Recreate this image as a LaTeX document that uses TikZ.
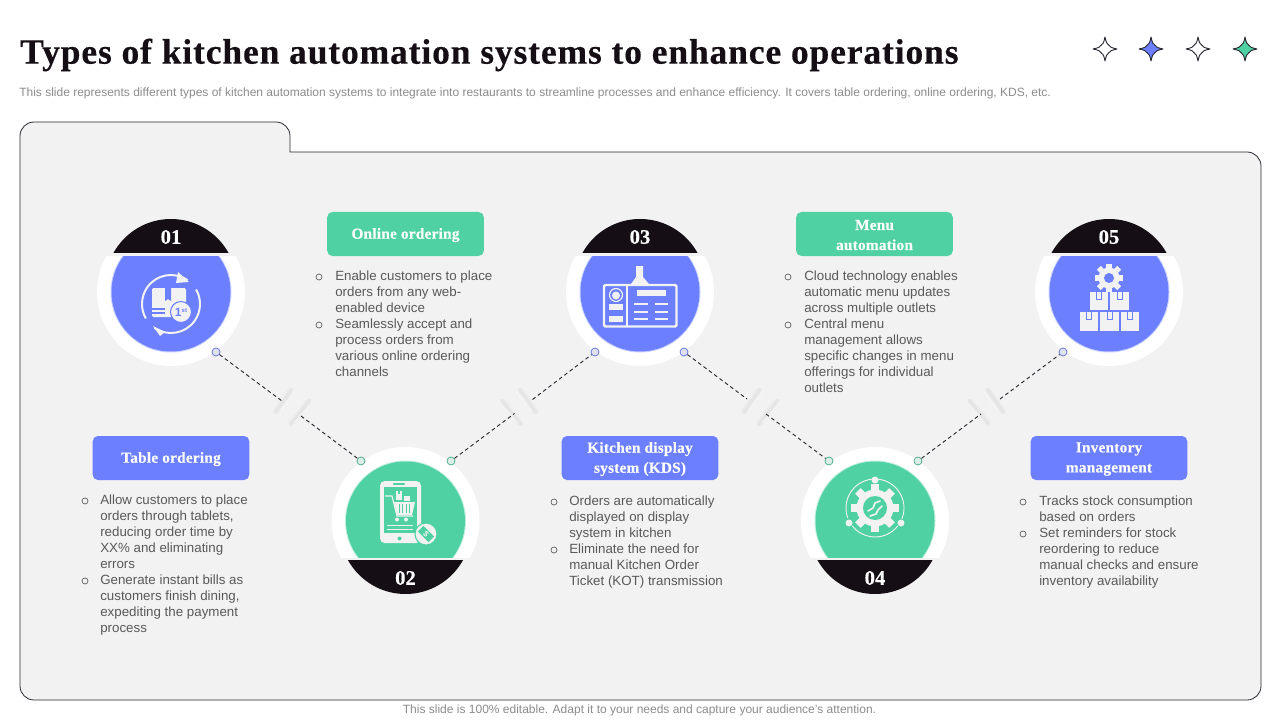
\documentclass[tikz,border=0pt]{standalone}
\usepackage{fontspec}
\usetikzlibrary{calc}
\setmainfont{Liberation Sans}
\newfontfamily\ttlfont[LetterSpace=2.5,FakeBold=0.4]{Liberation Serif Bold}
\newfontfamily\lblfont[LetterSpace=1.4,FakeBold=0.2]{Liberation Serif Bold}
\newfontfamily\numfont[FakeBold=0.3]{Liberation Serif Bold}
\definecolor{kblue}{HTML}{6B7FFF}
\definecolor{kgreen}{HTML}{4FD1A3}
\definecolor{kblack}{HTML}{150F15}
\definecolor{kpanel}{HTML}{F2F2F2}
\definecolor{ktext}{HTML}{595959}
\definecolor{kgrey}{HTML}{8C8C8C}
\definecolor{kline}{HTML}{2B2B33}
\tikzset{
  lbl/.style={rounded corners=4pt,inner sep=0pt,minimum width=117.5pt,minimum height=33pt},
  lbltxt/.style={inner sep=0pt,align=center,text=white,font=\lblfont\fontsize{11.5}{15}\selectfont},
  para/.style={anchor=north west,inner sep=0pt,yshift=-1.5pt,align=left,text=ktext,font=\fontsize{10}{12}\selectfont},
  bulmark/.style={circle,draw=ktext,line width=.5pt,minimum size=4.5pt,inner sep=0pt},
  numtxt/.style={text=white,font=\numfont\fontsize{15.5}{18}\selectfont,inner sep=0pt},
  conn/.style={draw=kline,line width=.7pt,dash pattern=on 2.8pt off 2.2pt},
  dotb/.style={circle,draw=kblue!85!black,fill=kpanel!85!kblue,line width=.5pt,minimum size=6pt,inner sep=0pt},
  dotg/.style={circle,draw=kgreen!80!black,fill=kpanel!85!kgreen,line width=.5pt,minimum size=6pt,inner sep=0pt},
  icol/.style={draw=kpanel,fill=none},
}
\newcommand{\discup}[2]{%
  \begin{scope}
    \clip (#1-90,256) rectangle (#1+90,380);
    \fill[white] (#1,292) circle (74);
    \fill[#2!35!white] (#1,292) circle (60.5);
    \fill[#2] (#1,292) circle (59.5);
  \end{scope}
  \begin{scope}
    \clip (#1-80,210) rectangle (#1+80,252);
    \fill[kblack] (#1,284.7) circle (65.7);
  \end{scope}}
\newcommand{\discdown}[2]{%
  \begin{scope}
    \clip (#1-90,430) rectangle (#1+90,557);
    \fill[white] (#1,521) circle (74);
    \fill[#2!35!white] (#1,521) circle (60.5);
    \fill[#2] (#1,521) circle (59.5);
  \end{scope}
  \begin{scope}
    \clip (#1-80,560) rectangle (#1+80,600);
    \fill[kblack] (#1,528.3) circle (65.7);
  \end{scope}}
\newcommand{\softslash}[4]{%
  \foreach \w/\o/\s in {8/.008/.12,6/.01/.06,4/.014/.03,2.5/.016/0}{
    \draw[black,opacity=\o,line width=\w*.75pt,line cap=round]
      ($(#1,#2)!\s!(#3,#4)$) -- ($(#3,#4)!\s!(#1,#2)$);
  }}
\newcommand{\gapmarks}[3]{%
  \begin{scope}[shift={(#1,#2)},xscale=#3]
    \softslash{3.5}{-17.5}{-13.5}{6.5}
    \softslash{21.5}{-6.5}{1.5}{18.5}
    \draw[white,opacity=.4,line width=1pt,line cap=round] (6.5,-15) -- (-8,4.5);
    \draw[white,opacity=.4,line width=1pt,line cap=round] (24,-4.5) -- (6,16);
  \end{scope}}
\newcommand{\fourstar}[3]{%
  \draw[draw=kline,fill=#3,line width=.7pt,line join=round] (#1,#2-12) .. controls (#1+1,#2-7) and (#1+2,#2-4.5) .. (#1+3.8,#2-3.8)
   .. controls (#1+4.5,#2-2) and (#1+7,#2-1) .. (#1+12,#2)
   .. controls (#1+7,#2+1) and (#1+4.5,#2+2) .. (#1+3.8,#2+3.8)
   .. controls (#1+2,#2+4.5) and (#1+1,#2+7) .. (#1,#2+12)
   .. controls (#1-1,#2+7) and (#1-2,#2+4.5) .. (#1-3.8,#2+3.8)
   .. controls (#1-4.5,#2+2) and (#1-7,#2+1) .. (#1-12,#2)
   .. controls (#1-7,#2-1) and (#1-4.5,#2-2) .. (#1-3.8,#2-3.8)
   .. controls (#1-2,#2-4.5) and (#1-1,#2-7) .. (#1,#2-12) -- cycle;}
\newcommand{\gearicon}[6]{%
  \fill[kpanel] (#1,#2) circle (#3);
  \foreach \a in {0,45,...,315}{
    \fill[kpanel,shift={(#1,#2)},rotate=\a] (-#5/2,-#3-#5*.7) rectangle (#5/2,0);
  }
  \fill[#6] (#1,#2) circle (#4);}
\newcommand{\boxico}[4]{%
  \fill[kpanel] (#1,#2) rectangle (#1+#3,#2+#4);
  \draw[kblue,line width=.5pt] (#1+#3*.36,#2) -- (#1+#3*.36,#2+#4*.4) -- (#1+#3*.64,#2+#4*.4) -- (#1+#3*.64,#2);}
\begin{document}
\begin{tikzpicture}[x=.75pt,y=-.75pt]
\useasboundingbox (0,0) rectangle (1280,720);
\fill[white] (0,0) rectangle (1280,720);

\node[anchor=west,inner sep=0pt,text=kblack,font=\ttlfont\fontsize{26.6}{30}\selectfont] (title) at (20,55) {Types of kitchen automation systems to enhance operations};
\node[anchor=west,inner sep=0pt,text=kgrey,font=\fontsize{9}{11}\selectfont] (sub) at (19,93.5) {This slide represents different types of kitchen automation systems to integrate into restaurants to streamline processes and enhance efficiency. It covers table ordering, online ordering, KDS, etc.};
\node[anchor=center,inner sep=0pt,text=kgrey,font=\fontsize{9}{11}\selectfont] (foot) at (639.5,710) {This slide is 100\% editable. Adapt it to your needs and capture your audience's attention.};

\fourstar{1105}{49}{white}
\fourstar{1151}{49}{kblue}
\fourstar{1198}{49}{white}
\fourstar{1245}{49}{kgreen}

\draw[kline,fill=kpanel,line width=.6pt]
  (20,136) arc[start angle=180,end angle=270,radius=14] -- (276,122) arc[start angle=270,end angle=360,radius=14] -- (290,152) -- (1247,152)
  arc[start angle=270,end angle=360,radius=14] -- (1261,686) arc[start angle=0,end angle=90,radius=14] -- (34,700) arc[start angle=90,end angle=180,radius=14] -- cycle;

\discup{171}{kblue}
\discdown{405.5}{kgreen}
\discup{640}{kblue}
\discdown{875}{kgreen}
\discup{1109}{kblue}

\gapmarks{288.5}{406.5}{1}
\gapmarks{523}{406.5}{-1}
\gapmarks{756.5}{406.5}{1}
\gapmarks{990.5}{406.5}{-1}

\node[dotb] (d1) at (216,352) {};
\node[dotg] (d2a) at (361,461) {};
\node[dotg] (d2b) at (451,461) {};
\node[dotb] (d3a) at (595,352) {};
\node[dotb] (d3b) at (684,352) {};
\node[dotg] (d4a) at (829,461) {};
\node[dotg] (d4b) at (918,461) {};
\node[dotb] (d5) at (1063,352) {};
\coordinate (g1a) at (282,401); \coordinate (g1b) at (301,416);
\coordinate (g2a) at (514.5,413.5); \coordinate (g2b) at (532.5,399.5);
\coordinate (g3a) at (747,399); \coordinate (g3b) at (766,414);
\coordinate (g4a) at (981,414); \coordinate (g4b) at (1000,399);
\draw[conn] (d1) -- (g1a);
\draw[conn] (g1b) -- (d2a);
\draw[conn] (d2b) -- (g2a);
\draw[conn] (g2b) -- (d3a);
\draw[conn] (d3b) -- (g3a);
\draw[conn] (g3b) -- (d4a);
\draw[conn] (d4b) -- (g4a);
\draw[conn] (g4b) -- (d5);

\node[numtxt] (n1) at (171,237) {01};
\node[numtxt] (n2) at (405.5,578) {02};
\node[numtxt] (n3) at (640,237) {03};
\node[numtxt] (n4) at (875,578) {04};
\node[numtxt] (n5) at (1109,237) {05};

% icon 1
\draw[icol,line width=1.5pt] (171,304) ++(-55:29) arc[start angle=-55,end angle=-210,radius=29];
\draw[icol,line width=1.5pt] (171,304) ++(125:29) arc[start angle=125,end angle=-30,radius=29];
\fill[kpanel] (178,272) -- (189,282) -- (176,283) -- cycle;
\fill[kpanel] (153,326) -- (165,332) -- (160,336) -- cycle;
\fill[kpanel,rounded corners=1pt] (152,288) rectangle (186,317);
\fill[kblue] (165,288) -- (165,301) -- (168,299) -- (171,301) -- (171,288) -- cycle;
\fill[kblue] (152,308) rectangle (165,309.5);
\fill[kblue] (152,312) rectangle (165,313.5);
\draw[kblue,fill=kpanel,line width=.8pt] (181,312) circle (10.5);
\node[inner sep=0pt,text=kblue,font=\bfseries\fontsize{9}{9}\selectfont] (st) at (181,312) {1\raisebox{2.5pt}{\fontsize{4.5}{4.5}\selectfont st}};

% icon 2
\fill[kpanel,rounded corners=3.5pt] (380,481) rectangle (421,543);
\fill[kgreen] (384,487) rectangle (417,533);
\fill[kgreen,rounded corners=.5pt] (393,483.2) rectangle (405,484.8);
\fill[kgreen] (399.5,538.5) circle (2);
\draw[kpanel,line width=.9pt] (385,496) -- (392,496) -- (397,516) -- (413,516);
\fill[kpanel] (394,502) -- (415,502) -- (412,515) -- (397,515) -- cycle;
\foreach \xx in {399,402.5,406,409.5}{\draw[kgreen,line width=.6pt] (\xx,504) -- (\xx,513);}
\fill[kpanel] (396,491) rectangle (402,500);
\fill[kpanel] (404,496) rectangle (410,501);
\fill[kgreen] (398,491) rectangle (400,494);
\fill[kpanel] (397,519.5) circle (2);
\fill[kpanel] (406,519.5) circle (2);
\fill[kpanel] (387,524.5) rectangle (413,526);
\fill[kpanel] (387,528.5) rectangle (413,530);
\draw[kgreen,fill=kpanel,line width=.8pt] (426,534) circle (11);
\fill[kgreen,rotate around={-45:(426,534)}] (418.5,530) rectangle (433.5,538);
\node[inner sep=0pt,text=kpanel,rotate=-45,font=\bfseries\fontsize{6}{6}\selectfont] (tag) at (426,534) {\$};

% icon 3
\draw[kpanel,line width=1.8pt,rounded corners=1pt] (604,285) rectangle (676.5,326.5);
\draw[kpanel,line width=1.8pt] (627,285) -- (627,326.5);
\fill[kpanel] (636,266) -- (643,266) -- (643,277) -- (649,284) -- (631,284) -- (636,277) -- cycle;
\draw[kpanel,line width=.9pt] (616,295) circle (6.5);
\fill[kpanel] (616,295.5) circle (4);
\fill[kpanel] (609,304) rectangle (623,309.5);
\fill[kpanel] (609,316) rectangle (623,321.5);
\fill[kpanel] (637,290) rectangle (666,296);
\foreach \yy in {304,312,319}{
  \fill[kpanel] (634,\yy-1.3) rectangle (648,\yy+1.3);
  \fill[kpanel] (655,\yy-1.3) rectangle (668,\yy+1.3);
}

% icon 4
\gearicon{875}{508}{18.5}{12}{8}{kgreen}
\draw[kpanel,line width=.7pt] (875,508) ++(-88:29) arc[start angle=-88,end angle=-200,radius=29];
\draw[kpanel,line width=.7pt] (875,508) ++(-86:29) arc[start angle=-86,end angle=22,radius=29];
\draw[kpanel,line width=.7pt] (875,508) ++(38:29) arc[start angle=38,end angle=142,radius=29];
\fill[kpanel] (875,480) circle (3.5);
\fill[kpanel] (849,523) circle (3.5);
\fill[kpanel] (901,523) circle (3.5);
\draw[kpanel,line width=1.2pt,line cap=round] (880,501) -- (875,503) -- (873,508) -- (868,511);
\draw[kpanel,line width=1.2pt,line cap=round] (882,506) -- (878,510) -- (876,514) -- (870,516);

% icon 5
\gearicon{1109}{278}{10.5}{5}{5.5}{kblue}
\boxico{1090}{292}{18}{18}
\boxico{1110}{292}{19}{18}
\boxico{1080}{312}{18}{19}
\boxico{1100}{312}{19}{19}
\boxico{1121}{312}{18}{19}

% labels
\node[lbl,fill=kblue] (l1) at (171,458) {};
\node[lbltxt] (t1) at ([yshift=-.8pt]l1.center) {Table ordering};
\node[lbl,fill=kgreen] (l2) at (405.5,234) {};
\node[lbltxt] (t2) at ([yshift=-.8pt]l2.center) {Online ordering};
\node[lbl,fill=kblue] (l3) at (640,458) {};
\node[lbltxt] (t3) at ([yshift=-.8pt]l3.center) {Kitchen display\\system (KDS)};
\node[lbl,fill=kgreen] (l4) at (874.5,234) {};
\node[lbltxt] (t4) at ([yshift=-.8pt]l4.center) {Menu\\automation};
\node[lbl,fill=kblue] (l5) at (1109,458) {};
\node[lbltxt] (t5) at ([yshift=-.8pt]l5.center) {Inventory\\management};

% bullets
\node[bulmark] (m1a) at (85,501) {};
\node[para] (p1a) at (100,493) {Allow customers to place\\orders through tablets,\\reducing order time by\\XX\% and eliminating\\errors};
\node[bulmark] (m1b) at (85,581) {};
\node[para] (p1b) at (100,573) {Generate instant bills as\\customers finish dining,\\expediting the payment\\process};
\node[bulmark] (m2a) at (319,277) {};
\node[para] (p2a) at (335,269) {Enable customers to place\\orders from any web-\\enabled device};
\node[bulmark] (m2b) at (319,325) {};
\node[para] (p2b) at (335,317) {Seamlessly accept and\\process orders from\\various online ordering\\channels};
\node[bulmark] (m3a) at (554,502) {};
\node[para] (p3a) at (569,494) {Orders are automatically\\displayed on display\\system in kitchen};
\node[bulmark] (m3b) at (554,550) {};
\node[para] (p3b) at (569,542) {Eliminate the need for\\manual Kitchen Order\\Ticket (KOT) transmission};
\node[bulmark] (m4a) at (788,277) {};
\node[para] (p4a) at (804,269) {Cloud technology enables\\automatic menu updates\\across multiple outlets};
\node[bulmark] (m4b) at (788,325) {};
\node[para] (p4b) at (804,317) {Central menu\\management allows\\specific changes in menu\\offerings for individual\\outlets};
\node[bulmark] (m5a) at (1023,502) {};
\node[para] (p5a) at (1039,494) {Tracks stock consumption\\based on orders};
\node[bulmark] (m5b) at (1023,534) {};
\node[para] (p5b) at (1039,526) {Set reminders for stock\\reordering to reduce\\manual checks and ensure\\inventory availability};
\end{tikzpicture}
\end{document}
